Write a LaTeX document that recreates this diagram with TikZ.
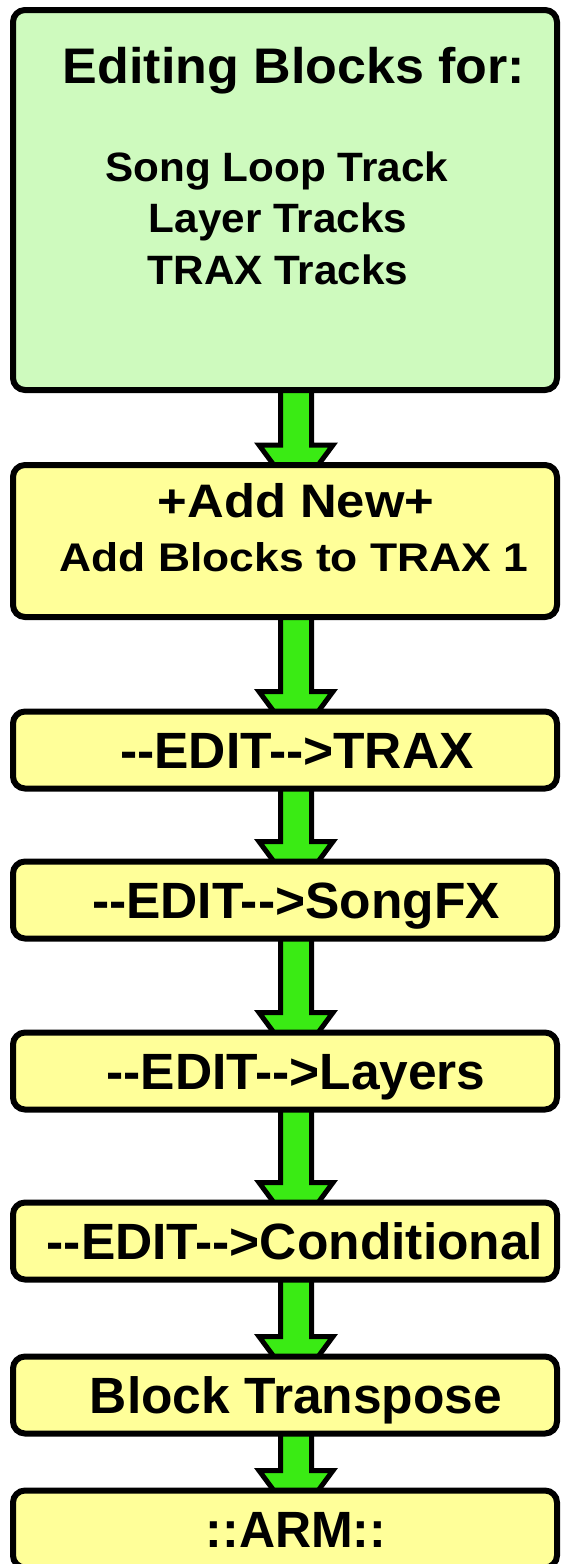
\documentclass[tikz,border=0pt]{standalone}
\usepackage{fontspec}
\setmainfont{Liberation Sans}
\usepackage{graphicx}
\usetikzlibrary{calc}

\definecolor{headfill}{RGB}{206,250,190}
\definecolor{stepfill}{RGB}{255,255,153}
\definecolor{flowgreen}{RGB}{58,235,20}

\pgfdeclarelayer{paper}
\pgfdeclarelayer{arrows}
\pgfsetlayers{paper,arrows,main}

% bold label: size in pt, horizontal stretch, text
\newcommand\lbl[3]{\scalebox{#2}[1]{\fontsize{#1}{#1}\selectfont\bfseries #3}}

\tikzset{
  stepbox/.style={draw=black, line width=6pt, rounded corners=12pt,
    rectangle, minimum width=544pt, inner sep=0pt, fill=stepfill},
  caption/.style={anchor=base, inner sep=0pt, text=black},
  flow/.style={draw=black, fill=flowgreen, line width=5pt, line join=miter},
}

% fat down arrow from the bottom of one box into the top of the next
\newcommand\flowarrow[2]{%
  \filldraw[flow] let \p1=($(#1.south)+(11pt,0)$), \p2=($(#2.north)+(11pt,0)$) in
    (\x1-15.5pt,\y1+4pt) -- (\x1-15.5pt,\y2+17pt) -- (\x1-37pt,\y2+17pt)
    -- (\x1,\y2-33pt) -- (\x1+37pt,\y2+17pt) -- (\x1+15.5pt,\y2+17pt)
    -- (\x1+15.5pt,\y1+4pt) -- cycle;}

\begin{document}
\begin{tikzpicture}[x=1pt,y=-1pt]
  \begin{pgfonlayer}{paper}
    \fill[white] (0,0) rectangle (561,1564);
  \end{pgfonlayer}
  \useasboundingbox (0,0) rectangle (561,1564);

  % boxes (positions are centres, sizes are border centre lines)
  \node[stepbox, fill=headfill, minimum height=380pt] (b1) at (285,200) {};
  \node[stepbox, minimum height=152pt] (b2) at (285,541) {};
  \node[stepbox, minimum height=77pt] (b3) at (285,750) {};
  \node[stepbox, minimum height=77pt] (b4) at (285,900) {};
  \node[stepbox, minimum height=77pt] (b5) at (285,1071) {};
  \node[stepbox, minimum height=77pt] (b6) at (285,1241) {};
  \node[stepbox, minimum height=77pt] (b7) at (285,1395) {};
  \node[stepbox, minimum height=77pt] (b8) at (285,1529) {};

  % arrows go underneath the boxes
  \begin{pgfonlayer}{arrows}
  \flowarrow{b1}{b2}
  \flowarrow{b2}{b3}
  \flowarrow{b3}{b4}
  \flowarrow{b4}{b5}
  \flowarrow{b5}{b6}
  \flowarrow{b6}{b7}
  \flowarrow{b7}{b8}
  \end{pgfonlayer}

  % texts
  \node[caption] (t1) at (294,83) {\lbl{50}{1.04}{Editing Blocks for:}};
  \node[caption] (t2) at (277,181) {\lbl{41}{1.03}{Song Loop Track}};
  \node[caption] (t3) at (278,232) {\lbl{41}{1.03}{Layer Tracks}};
  \node[caption] (t4) at (278,284) {\lbl{41}{1.03}{TRAX Tracks}};
  \node[caption] (t5) at (296,517) {\lbl{47}{1.08}{+Add New+}};
  \node[caption] (t6) at (294,571) {\lbl{40}{1.11}{Add Blocks to TRAX 1}};
  \node[caption] (t7) at (297,768) {\lbl{51}{1.01}{-{}-EDIT-{}->TRAX}};
  \node[caption] (t8) at (296,918) {\lbl{51}{1.01}{-{}-EDIT-{}->SongFX}};
  \node[caption] (t9) at (296,1089) {\lbl{51}{1.01}{-{}-EDIT-{}->Layers}};
  \node[caption] (t10) at (295,1259) {\lbl{51}{1.01}{-{}-EDIT-{}->Conditional}};
  \node[caption] (t11) at (296,1413) {\lbl{51}{1.01}{Block Transpose}};
  \node[caption] (t12) at (296,1547) {\lbl{51}{0.98}{::ARM::}};
\end{tikzpicture}
\end{document}
